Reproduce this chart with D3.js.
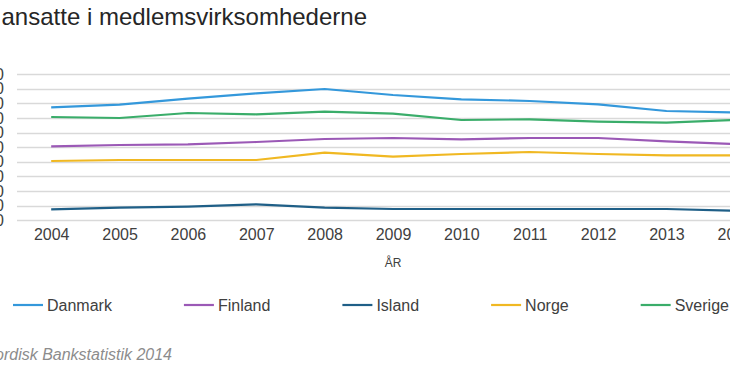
<!DOCTYPE html>
<html>
<head>
<meta charset="utf-8">
<script src="https://cdn.jsdelivr.net/npm/d3@7"></script>
<style>
  html, body { margin: 0; padding: 0; background: #fff; }
  svg { display: block; font-family: "Liberation Sans", Arial, sans-serif; }
</style>
</head>
<body>
<svg id="chart" width="730" height="365"></svg>
<script>
const title = "Antal ansatte i medlemsvirksomhederne";
const source = "Kilde: Nordisk Bankstatistik 2014";
const xTitle = "ÅR";
const years = ["2004","2005","2006","2007","2008","2009","2010","2011","2012","2013","2014"];
const yTicks = [0,5000,10000,15000,20000,25000,30000,35000,40000,45000,50000];
const seriesNames = ["Danmark","Finland","Island","Norge","Sverige"];
const seriesColors = ["#3498db","#9b59b6","#1f5f87","#f0b822","#3aad6a"];
const danmark = [38620,39510,41560,43400,44870,42820,41350,40770,39640,37350,36840];
const finland = [25290,25730,25970,26760,27790,28130,27680,28130,28130,27000,26080];
const island  = [3760,4310,4650,5470,4310,3860,3860,3860,3860,3860,3280];
const norge   = [20270,20610,20610,20610,23100,21740,22660,23340,22660,22210,22210];
const sverige = [35300,34960,36670,36230,37110,36430,34280,34520,33700,33360,34280];
const seriesValues = [danmark, finland, island, norge, sverige];

const svg = d3.select("#chart");
svg.append("rect").attr("width",730).attr("height",365).attr("fill","#fff");

const x = d3.scalePoint().domain(years).range([17, 769]).padding(0.5);
const y = d3.scaleLinear().domain([0, 50000]).range([220.3, 74]);

// gridlines
svg.append("g").selectAll("line").data(yTicks).join("line")
  .attr("x1", 17).attr("x2", 770)
  .attr("y1", d => Math.round(y(d)) + 0.5).attr("y2", d => Math.round(y(d)) + 0.5)
  .attr("stroke", "#d9d9d9").attr("stroke-width", 1.3);

// y tick labels (cut off at left)
const yAxis = d3.axisLeft(y).tickValues(yTicks).tickSize(0).tickPadding(0)
  .tickFormat(d => d3.format(",")(d).replace(/,/g, "."));
const ya = svg.append("g").attr("transform", "translate(4,0)").call(yAxis);
ya.select(".domain").remove();
ya.selectAll("text").attr("font-size", 16).attr("fill", "#404040")
  .attr("font-family", "Liberation Sans, Arial, sans-serif");

// x axis labels
const xAxis = d3.axisBottom(x).tickSize(0).tickPadding(0);
const xa = svg.append("g").attr("transform", "translate(0,229)").call(xAxis);
xa.select(".domain").remove();
xa.selectAll("text").attr("font-size", 16).attr("fill", "#404040")
  .attr("font-family", "Liberation Sans, Arial, sans-serif");

svg.append("text").attr("x", (x.range()[0] + x.range()[1]) / 2).attr("y", 266.5)
  .attr("text-anchor", "middle").attr("font-size", 12).attr("fill", "#404040").text(xTitle);

// lines
const line = d3.line().x((d, i) => x(years[i])).y(d => y(d));
svg.append("g").selectAll("path").data(seriesValues).join("path")
  .attr("d", d => line(d)).attr("fill", "none")
  .attr("stroke", (d, i) => seriesColors[i]).attr("stroke-width", 2.2)
  .attr("stroke-linejoin", "round");

// title
svg.append("text").attr("x", 367).attr("y", 25).attr("text-anchor", "end")
  .attr("font-size", 24).attr("fill", "#262626").text(title);

// legend
const lg = svg.append("g").attr("transform", "translate(0,305)");
let cx = 13;
seriesNames.forEach((name, i) => {
  lg.append("line").attr("x1", cx).attr("x2", cx + 30).attr("y1", 0).attr("y2", 0)
    .attr("stroke", seriesColors[i]).attr("stroke-width", 2.2);
  const t = lg.append("text").attr("x", cx + 34).attr("y", 0).attr("dy", "0.35em")
    .attr("font-size", 16).attr("fill", "#404040").text(name);
  cx += 34 + t.node().getComputedTextLength() + 72;
});

// source
svg.append("text").attr("x", 172).attr("y", 360).attr("text-anchor", "end")
  .attr("font-size", 16).attr("font-style", "italic").attr("fill", "#8c8c8c").text(source);
</script>
</body>
</html>
